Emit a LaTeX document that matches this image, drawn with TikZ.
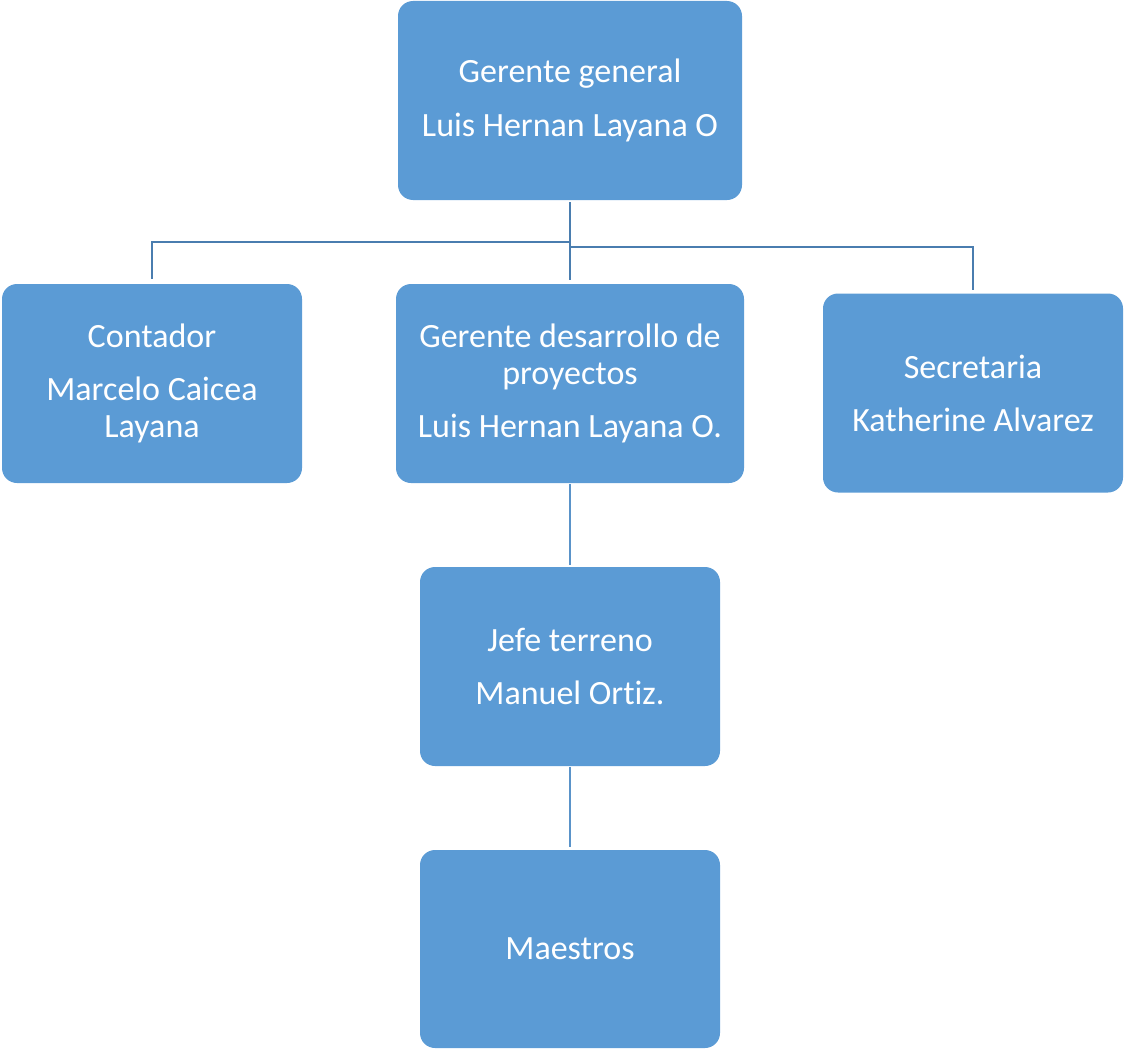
\documentclass[tikz,border=0pt]{standalone}
\usepackage{fontspec}
\setmainfont[Ligatures=NoCommon]{Carlito}
\definecolor{boxblue}{HTML}{5B9BD5}
\definecolor{upline}{HTML}{4A7DAF}
\definecolor{lowline}{HTML}{5A93C9}
\begin{document}
\begin{tikzpicture}[x=1pt,y=-1pt,
  orgbox/.style={fill=boxblue,draw=none,rounded corners=15pt,text=white,align=center,
    font=\fontsize{34}{37}\selectfont,inner sep=0pt},
  upconn/.style={draw=upline,line width=2.4pt},
  lowconn/.style={draw=lowline,line width=2.4pt}]
\useasboundingbox (0,0) rectangle (1124,1049);
\node[orgbox,minimum width=344pt,minimum height=199pt] (top) at (570,100.5) {Gerente general\\[17pt]Luis Hernan Layana O};
\node[orgbox,minimum width=300pt,minimum height=199pt] (cont) at (152,383.5) {Contador\\[16pt]Marcelo Caicea\\Layana};
\node[orgbox,minimum width=348pt,minimum height=199pt] (des) at (570,383.5) {Gerente desarrollo de\\proyectos\\[16pt]Luis Hernan Layana O.};
\node[orgbox,minimum width=300pt,minimum height=199pt] (sec) at (973,393) {Secretaria\\[16pt]Katherine Alvarez};
\node[orgbox,minimum width=300pt,minimum height=199pt] (jefe) at (570,666.5) {Jefe terreno\\[16pt]Manuel Ortiz.};
\node[orgbox,minimum width=300pt,minimum height=198pt] (mae) at (570,949) {Maestros};
\coordinate (jl) at (570,242);
\coordinate (jr) at (570,247);
\draw[upconn,shorten <=2pt,shorten >=4pt] (top.south) -- (des.north);
\draw[upconn,shorten >=5pt] (jl) -| (cont.north);
\draw[upconn,shorten >=3pt] (jr) -| (sec.north);
\draw[lowconn,shorten <=1pt,shorten >=2pt] (des.south) -- (jefe.north);
\draw[lowconn,shorten <=1pt,shorten >=3pt] (jefe.south) -- (mae.north);
\end{tikzpicture}
\end{document}
